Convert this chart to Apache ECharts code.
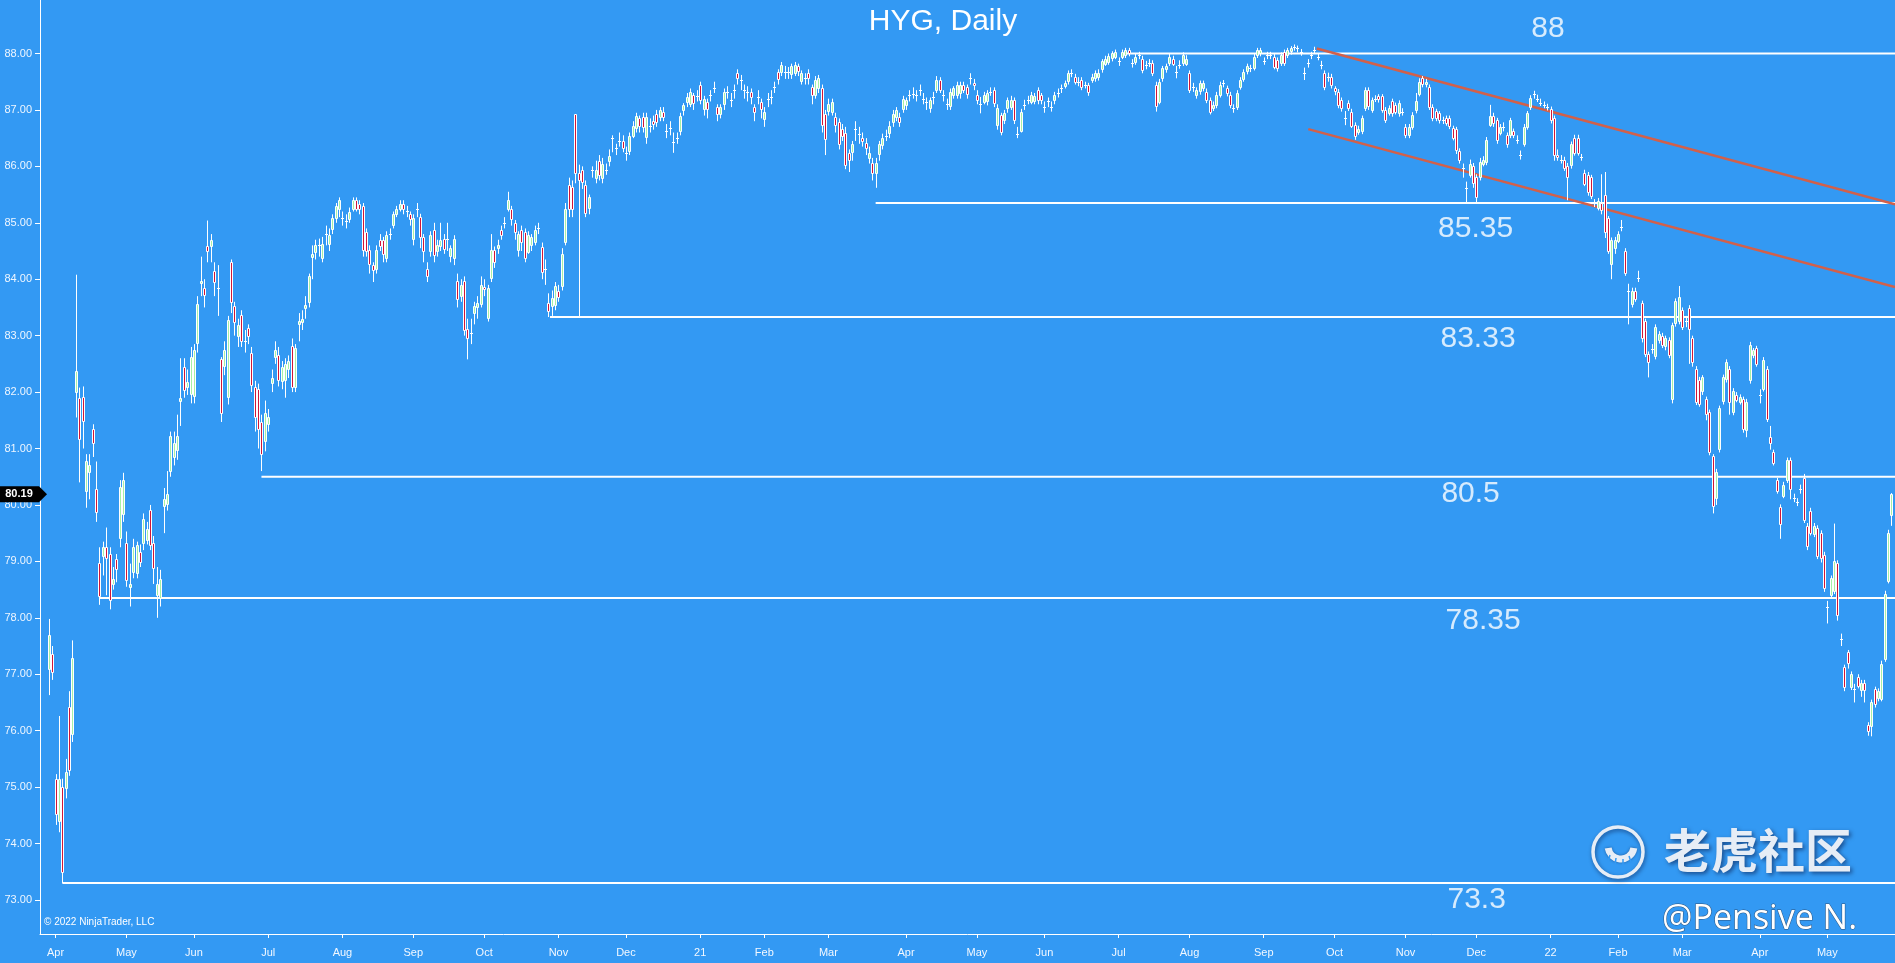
<!DOCTYPE html>
<html><head><meta charset="utf-8">
<script src="https://cdn.jsdelivr.net/npm/echarts@6/dist/echarts.min.js"></script>
<style>html,body{margin:0;padding:0;background:#3399f3;overflow:hidden}#c{width:1895px;height:963px}</style>
</head><body><div id="c"></div>
<script>
// ---- DATA: daily candles [open, close, low, high], HYG, from 2020-03-30 ----
const candles2020a = [
[77.08,77.69,76.63,77.98],[77.36,77.04,76.9,77.5],[75.15,74.53,74.33,75.23],[74.4,75.15,74.2,76.26],[75.0,73.5,73.3,75.15],
[74.98,75.27,74.8,75.5],[76.42,75.31,75.2,76.7],[75.93,77.28,75.8,77.6],[82.0,82.37,81.55,84.08],[81.9,81.18,80.4,82.08],
[81.92,81.5,81.0,82.1],[80.24,80.77,79.95,80.9],[80.57,80.7,80.1,80.9],[81.35,81.1,80.85,81.43],[80.28,79.87,79.7,80.77],
[78.97,78.39,78.23,79.25],[79.09,79.25,78.75,79.35],[79.25,79.05,78.4,79.6],[79.13,78.31,78.15,79.25],[78.6,78.68,78.5,78.9],
[79.05,78.88,78.63,79.13],[79.42,80.32,79.25,80.44],[79.83,80.44,79.7,80.57],[79.33,78.68,78.55,79.53],[78.55,78.6,78.2,78.96],
[78.8,79.25,78.7,79.4],[78.8,79.29,78.7,79.35],[79.17,79.0,78.9,79.3],[79.33,79.75,79.2,79.85],[79.38,79.58,79.3,79.7],
[79.91,79.29,79.2,80.0],[79.33,78.88,78.6,79.45],[78.4,78.6,78.0,78.9],[78.35,78.68,78.2,78.85],[79.99,80.11,79.5,80.3],
[80.03,80.2,79.9,80.6],[80.6,81.22,80.5,81.3],[80.85,81.1,80.7,81.3],[80.97,81.22,80.8,81.6],[81.85,81.9,81.4,82.6],
[82.45,82.04,81.9,82.6],[82.09,82.17,81.95,82.4],[81.96,82.62,81.8,82.8],[81.92,82.74,81.8,82.85],[82.87,83.56,82.7,83.7],
[83.93,83.97,83.7,84.4],[83.85,83.73,83.5,84.0],[84.59,84.51,84.3,85.04],[84.59,84.69,84.3,84.8],[84.14,83.95,83.7,84.3],
[83.83,83.85,83.35,84.25],[82.58,81.63,81.47,82.62],[82.45,82.74,82.3,82.9],[81.92,83.28,81.78,83.35],[84.3,83.6,83.4,84.35],
[83.52,83.24,83.0,83.6],[82.99,83.19,82.8,83.3],[83.36,82.9,82.8,83.45],[82.9,82.92,82.7,83.1],[83.13,82.99,82.85,83.2],
[82.7,82.13,82.0,82.8],[82.09,81.55,81.3,82.2],[82.05,81.35,81.0,82.15],[81.47,80.9,80.6,81.6],[81.14,81.63,80.95,81.85],
[81.43,81.55,81.3,81.7],[82.17,82.25,82.0,82.4],[82.62,82.74,82.5,82.9],[82.66,82.21,82.1,82.8],[82.21,82.45,82.05,82.55],
[82.21,82.5,81.9,82.6],[82.4,82.55,82.25,82.65],[82.82,82.09,82.0,82.95],[82.09,82.78,82.0,82.85],[83.2,83.26,82.9,83.4],
[83.25,83.3,83.1,83.45],[83.5,83.55,83.3,83.7],[83.6,84.06,83.5,84.1],[84.4,84.45,84.0,84.6],[84.48,84.6,84.35,84.7],
[84.6,84.62,84.4,84.72],[84.38,84.63,84.3,84.75],[84.8,84.82,84.6,84.95],[84.63,84.79,84.5,84.9],[84.88,85.08,84.8,85.15],
[85.08,85.29,85.0,85.35],[85.25,85.41,85.1,85.45],[85.1,85.08,84.95,85.2],[85.03,85.05,84.9,85.15],[85.08,85.2,85.0,85.27],
[85.25,85.41,85.2,85.45],[85.41,85.25,85.2,85.45],[85.33,85.25,85.15,85.4],[85.29,84.51,84.4,85.35],[84.84,84.51,84.4,84.9],
[84.51,84.26,84.1,84.6],[84.26,84.18,83.95,84.3],[84.18,84.51,84.1,84.6],[84.7,84.6,84.5,84.8],[84.69,84.45,84.3,84.75],
[84.38,84.79,84.3,84.85],[84.8,84.82,84.7,84.9],[84.96,85.16,84.9,85.2],[85.16,85.24,85.1,85.3],[85.25,85.33,85.2,85.4],
[85.33,85.25,85.15,85.4],[85.22,85.2,85.1,85.3],[85.16,85.08,84.95,85.2],[84.7,85.08,84.6,85.15],[85.24,85.25,85.1,85.35],
[85.1,84.75,84.55,85.16],[84.75,84.51,84.3,84.8],[84.18,84.06,83.95,84.3],[84.51,84.79,84.4,84.85],[84.88,84.43,84.3,85.0],
[84.5,84.6,84.4,84.7],[84.6,84.7,84.5,85.0],[84.72,84.55,84.45,84.8],[84.72,84.72,84.5,85.0],[84.4,84.55,84.3,84.6],
[84.38,84.72,84.25,84.78],[83.97,83.65,83.5,84.1],[83.7,83.9,83.6,84.0],[83.97,83.11,83.0,84.05],[83.11,82.95,82.58,83.3],
[83.05,83.05,82.85,83.3],[83.4,83.52,83.2,83.6],[83.5,83.57,83.3,83.7],[83.57,83.9,83.5,84.05],[83.87,83.83,83.7,84.0],
[83.32,83.85,83.25,83.9],[84.02,84.51,83.95,84.8],[84.51,84.3,84.2,84.58],[84.55,84.6,84.45,84.7],[84.88,84.8,84.7,84.95],
[85.0,85.0,84.9,85.1],[85.25,85.41,85.2,85.55],[85.25,85.08,84.95,85.3],[85.0,84.84,84.7,85.05],[84.51,84.8,84.4,84.85],
[84.88,84.67,84.5,84.95],[84.84,84.38,84.3,84.9],[84.48,84.78,84.45,84.85],[84.6,84.75,84.5,84.8],[84.67,84.88,84.6,84.95],
[84.9,84.92,84.8,85.0]
];
const candles2020b = [
[84.57,84.12,84.0,84.65],[84.2,84.18,83.9,84.35],[83.58,83.43,83.33,83.75],[83.52,83.67,83.35,83.8],[83.55,83.88,83.45,83.95],
[83.8,83.7,83.6,83.9],[83.88,84.45,83.8,84.55],[84.67,85.25,84.6,85.35],[85.67,85.25,85.1,85.8],[85.64,85.25,85.1,85.75],
[86.92,85.88,85.7,86.92],[85.88,85.76,83.33,86.03],[85.94,85.73,85.6,86.0],[85.67,85.17,85.1,85.75],[85.25,85.45,85.15,85.5],
[85.94,85.92,85.8,86.0],[85.8,85.94,85.7,86.1],[86.1,85.85,85.75,86.2],[85.8,86.05,85.7,86.15],[85.93,85.94,85.85,86.05],
[86.09,86.18,86.0,86.3],[86.5,86.51,86.25,86.55],[86.33,86.32,86.2,86.4],[86.45,86.46,86.35,86.6],[86.45,86.33,86.25,86.55],
[86.25,86.24,86.1,86.35],[86.27,86.54,86.2,86.6],[86.54,86.72,86.5,86.8],[86.69,86.9,86.6,86.95],[86.85,86.7,86.6,86.9],
[86.88,86.7,86.6,86.95],[86.51,86.87,86.4,86.95],[86.72,86.72,86.6,86.85],[86.81,86.75,86.65,86.9],[86.93,86.78,86.7,87.0],
[86.87,86.99,86.8,87.05],[86.96,86.87,86.8,87.05],[86.62,86.63,86.5,86.75],[86.68,86.69,86.55,86.8],[86.42,86.43,86.24,86.6],
[86.51,86.5,86.4,86.6],[86.63,86.9,86.55,86.95],[86.99,87.08,86.9,87.12],[87.14,87.23,87.05,87.3],[87.11,87.32,87.05,87.38],
[87.26,87.11,87.0,87.3],[87.26,87.25,87.15,87.35],[87.44,87.17,87.1,87.5],[87.02,87.2,86.9,87.25],[87.14,87.02,86.85,87.2],
[87.26,87.26,87.15,87.35],[87.38,87.38,87.3,87.5],[87.05,86.93,86.8,87.1],[86.93,87.05,86.85,87.1],[87.11,87.32,87.0,87.38],
[87.32,87.32,87.2,87.42],[87.17,87.17,87.05,87.3],[87.35,87.35,87.2,87.45],[87.65,87.56,87.45,87.72],[87.53,87.53,87.35,87.62],
[87.35,87.35,87.2,87.45],[87.32,87.32,87.15,87.42],[87.32,87.23,87.1,87.38],[87.05,86.96,86.8,87.1],[87.23,87.23,87.1,87.35],
[87.14,87.02,86.85,87.2],[86.84,86.96,86.7,87.05],[87.2,87.2,87.05,87.3],[87.23,87.23,87.1,87.35],[87.41,87.41,87.3,87.5],
[87.68,87.56,87.45,87.72],[87.68,87.8,87.6,87.85],[87.68,87.68,87.55,87.78],[87.68,87.68,87.55,87.76],[87.62,87.77,87.55,87.82],
[87.65,87.8,87.6,87.85],[87.77,87.68,87.6,87.82],[87.5,87.65,87.45,87.7],[87.56,87.56,87.45,87.65],[87.65,87.56,87.45,87.72],
[87.41,87.26,87.1,87.45],[87.26,87.53,87.2,87.6],[87.38,87.56,87.3,87.62],[87.38,86.72,86.6,87.45],[86.93,86.48,86.2,87.0],
[86.99,87.11,86.9,87.2],[86.96,87.14,86.9,87.2],[86.87,86.72,86.6,86.95],[86.78,86.39,86.3,86.85],[86.66,86.54,86.45,86.75],
[86.6,86.03,85.95,86.7],[86.24,86.12,85.9,86.3],[86.24,86.39,86.1,86.45],[86.66,86.66,86.45,86.8],[86.57,86.57,86.4,86.7],
[86.51,86.45,86.35,86.6],[86.42,86.33,86.2,86.5],[86.15,86.24,86.05,86.35],[86.06,85.88,85.75,86.15],[85.88,86.06,85.62,86.15],
[86.21,86.39,86.1,86.45],[86.39,86.51,86.3,86.58],[86.54,86.54,86.45,86.65],[86.6,86.72,86.5,86.8],[86.78,86.93,86.7,87.0],
[86.87,86.99,86.8,87.05],[86.87,86.78,86.7,86.95],[87.02,87.2,86.95,87.25],[87.08,87.17,87.0,87.22],[87.26,87.26,87.15,87.35],
[87.29,87.29,87.2,87.4],[87.26,87.26,87.15,87.35],[87.35,87.35,87.25,87.45],[87.2,87.2,87.1,87.3],[87.14,87.14,87.0,87.22],
[87.02,87.17,86.95,87.22],[87.23,87.23,87.1,87.32],[87.35,87.53,87.3,87.6],[87.53,87.35,87.3,87.58],[87.26,87.26,87.15,87.35],
[87.11,87.11,87.0,87.2],[87.08,87.32,87.0,87.38],[87.26,87.38,87.2,87.42],[87.26,87.44,87.2,87.5],[87.29,87.44,87.2,87.5],
[87.44,87.35,87.3,87.5],[87.41,87.29,87.2,87.45],[87.56,87.56,87.45,87.65],[87.47,87.44,87.35,87.55],[87.26,87.18,87.1,87.35]
];
const candles2021 = [
[87.12,87.1,86.94,87.23],[87.15,87.27,87.1,87.32],[87.15,87.3,87.08,87.35],[87.32,87.33,87.25,87.4],[87.35,87.12,87.05,87.4],
[86.73,87.03,86.65,87.1],[86.91,86.61,86.55,86.95],[86.82,86.94,86.75,87.0],[87.03,87.18,86.95,87.22],[87.06,87.18,87.0,87.25],
[87.18,86.82,86.75,87.22],[86.58,86.58,86.5,86.7],[86.64,86.97,86.6,87.02],[87.09,87.09,87.0,87.18],[87.18,87.18,87.1,87.25],
[87.15,87.27,87.1,87.32],[87.15,87.24,87.1,87.3],[87.35,87.18,87.1,87.4],[87.27,87.18,87.1,87.3],[87.06,87.06,86.95,87.15],
[87.15,87.15,87.05,87.22],[87.06,87.06,86.97,87.15],[87.18,87.27,87.1,87.32],[87.3,87.3,87.22,87.38],[87.38,87.38,87.3,87.45],
[87.41,87.47,87.38,87.52],[87.5,87.65,87.45,87.7],[87.65,87.65,87.58,87.72],[87.59,87.5,87.45,87.64],[87.5,87.5,87.42,87.58],
[87.53,87.41,87.35,87.58],[87.44,87.44,87.38,87.5],[87.44,87.32,87.25,87.48],[87.53,87.59,87.48,87.64],[87.56,87.65,87.5,87.7],
[87.58,87.65,87.52,87.72],[87.71,87.86,87.66,87.9],[87.83,87.91,87.78,87.96],[87.86,87.96,87.8,88.0],[87.91,88.0,87.86,88.04],
[87.94,88.03,87.9,88.07],[87.86,87.86,87.78,87.93],[87.94,88.03,87.9,88.07],[87.97,88.06,87.92,88.1],[88.06,88.0,87.95,88.1],
[87.83,87.83,87.75,87.9],[87.86,87.94,87.8,88.0],[87.97,87.97,87.9,88.03],[87.91,87.71,87.65,87.96],[87.8,87.8,87.72,87.87],
[87.83,87.83,87.76,87.9],[87.83,87.65,87.6,87.88],[87.44,87.06,86.97,87.5],[87.15,87.5,87.1,87.55],[87.56,87.74,87.5,87.78],
[87.71,87.77,87.66,87.82],[87.83,87.94,87.78,88.0],[87.91,87.83,87.78,87.96],[87.68,87.68,87.56,87.78],[87.8,87.8,87.73,87.88],
[87.83,87.97,87.78,88.02],[87.83,87.91,87.78,87.97],[87.65,87.35,87.3,87.7],[87.41,87.41,87.32,87.48],[87.26,87.35,87.2,87.4],
[87.32,87.47,87.27,87.52],[87.38,87.47,87.33,87.52],[87.32,87.18,87.12,87.38],[87.18,86.97,86.92,87.22],[87.03,87.09,86.98,87.15],
[87.09,87.27,87.03,87.32],[87.27,87.44,87.22,87.5],[87.47,87.47,87.4,87.53],[87.38,87.29,87.24,87.43],[87.27,87.09,87.03,87.32],
[87.03,87.03,86.95,87.1],[87.06,87.3,87.0,87.35],[87.41,87.53,87.36,87.58],[87.56,87.68,87.5,87.72],[87.68,87.77,87.63,87.82],
[87.74,87.74,87.67,87.8],[87.74,87.94,87.7,88.0],[87.97,88.06,87.92,88.1],[88.0,88.06,87.95,88.1],[87.86,87.86,87.8,87.93],
[87.97,87.97,87.9,88.03],[87.97,87.97,87.9,88.03],[87.94,87.77,87.72,87.99],[87.88,87.74,87.68,87.93],[87.83,87.97,87.78,88.02],
[88.03,87.83,87.78,88.07],[87.97,88.06,87.92,88.1],[88.03,88.09,87.98,88.13],[88.12,88.12,88.05,88.16],[88.09,88.09,88.02,88.14],
[88.03,88.03,87.96,88.08],[87.65,87.65,87.53,87.75],[87.83,87.83,87.75,87.9],[87.97,87.97,87.9,88.03],[88.06,88.06,88.0,88.12],
[87.94,87.94,87.88,88.0],[87.8,87.8,87.72,87.87],[87.65,87.41,87.35,87.7],[87.59,87.59,87.5,87.66],[87.59,87.44,87.38,87.64],
[87.38,87.32,87.26,87.42],[87.32,87.09,87.03,87.37],[87.18,87.03,86.97,87.22],[86.85,86.85,86.73,86.98],[87.12,87.03,86.98,87.17],
[86.97,86.73,86.68,87.02],[86.73,86.53,86.47,86.78],[86.62,86.67,86.56,86.72],[86.62,86.85,86.57,86.9],[87.03,87.35,86.98,87.4],
[87.35,87.06,87.0,87.4],[87.0,87.18,86.95,87.22],[87.2,87.2,87.14,87.26],[87.24,87.18,87.13,87.28],[87.24,87.0,86.95,87.28],
[87.0,86.82,86.77,87.05],[86.94,87.03,86.9,87.08],[87.15,86.94,86.88,87.2],[87.09,86.97,86.92,87.13],[86.94,87.12,86.88,87.17],
[86.97,86.97,86.9,87.03],[86.7,86.56,86.5,86.75],[86.56,86.7,86.5,86.75],[86.7,86.91,86.65,86.96],[86.99,87.15,86.94,87.3]
];
const candles2022 = [
[87.29,87.5,87.24,87.56],[87.56,87.46,87.4,87.6],[87.47,87.5,87.4,87.55],[87.4,87.05,87.0,87.45],[87.05,86.86,86.8,87.1],
[86.98,86.86,86.8,87.02],[86.94,86.82,86.76,86.98],[86.82,86.82,86.75,86.88],[86.86,86.78,86.72,86.9],[86.86,86.72,86.66,86.9],
[86.68,86.51,86.46,86.72],[86.66,86.28,86.22,86.7],[86.28,86.12,86.05,86.32],[85.97,85.97,85.8,86.05],[85.62,85.62,85.35,85.73],
[85.85,86.05,85.8,86.12],[86.01,85.7,85.62,86.06],[85.81,85.45,85.35,85.86],[85.81,86.08,85.75,86.15],[86.05,86.12,86.0,86.18],
[86.08,86.47,86.02,86.52],[86.74,86.9,86.7,87.09],[86.9,86.78,86.7,86.95],[86.82,86.47,86.4,86.86],[86.59,86.7,86.55,86.75],
[86.7,86.7,86.62,86.78],[86.55,86.39,86.33,86.6],[86.55,86.82,86.5,86.86],[86.62,86.55,86.5,86.67],[86.47,86.47,86.4,86.55],
[86.2,86.2,86.12,86.28],[86.39,86.7,86.35,86.75],[86.7,86.94,86.65,86.98],[87.05,87.21,87.0,87.26],[87.28,87.28,87.2,87.34],
[87.2,87.2,87.14,87.27],[87.13,87.13,87.07,87.2],[87.09,87.09,87.03,87.15],[87.05,87.05,86.99,87.11],[87.01,86.82,86.76,87.06],
[86.85,86.2,86.1,86.9],[86.2,86.16,86.1,86.3],[86.12,86.12,86.05,86.2],[86.12,85.97,85.92,86.17],[86.01,85.81,85.4,86.06],
[86.01,86.39,85.96,86.44],[86.51,86.24,86.19,86.56],[86.51,86.24,86.19,86.56],[86.16,86.16,86.1,86.22],[85.89,85.7,85.65,85.94],
[85.85,85.54,85.48,85.9],[85.81,85.47,85.42,85.85],[85.35,85.35,85.28,85.42],[85.27,85.39,85.22,85.44],[85.35,85.23,85.15,85.86],
[85.5,84.85,84.73,85.9],[85.08,84.5,84.45,85.12],[84.27,84.69,84.0,84.74],[84.54,84.69,84.45,84.75],[84.69,84.81,84.64,84.85],
[84.92,84.92,84.85,85.05],[84.5,84.11,84.06,84.55],[83.8,83.8,83.2,83.92],[83.57,83.8,83.5,83.85],[83.8,83.65,83.6,83.85],
[84.03,84.03,83.95,84.15],[83.57,82.95,82.88,83.62],[83.26,82.68,82.62,83.3],[82.68,82.53,82.26,82.72],[82.76,82.76,82.68,82.85],
[82.64,83.15,82.58,83.2],[82.92,83.03,82.86,83.08],[83.0,82.84,82.78,83.05],[82.8,82.95,82.74,83.0],[82.92,82.65,82.6,82.97],
[81.87,83.18,81.8,83.23],[83.22,83.61,83.16,83.66],[83.26,83.69,83.2,83.88],[83.45,83.15,83.1,83.5],[83.26,83.26,83.15,83.35],
[83.49,83.11,82.5,83.54],[82.95,82.53,82.45,83.0],[82.41,81.83,81.77,82.46],[82.22,81.79,81.74,82.27],[82.02,82.26,81.95,82.3],
[81.87,81.6,81.5,81.92],[81.64,80.94,80.88,81.69],[80.86,79.97,79.85,80.9],[80.13,80.59,80.0,80.64],[80.98,81.71,80.93,81.76],
[81.83,82.26,81.78,82.31],[82.22,82.53,82.17,82.58],[82.41,81.83,81.6,82.46],[81.64,82.02,81.59,82.07],[81.95,81.87,81.82,82.0],
[81.83,81.91,81.78,81.96],[81.87,81.33,81.28,81.92],[81.33,81.83,81.2,81.88],[82.22,82.84,82.15,82.89],[82.66,82.74,82.6,82.78],
[82.78,82.5,82.45,82.82],[81.95,81.95,81.8,82.05],[82.06,82.57,82.01,82.62],[82.41,81.52,81.47,82.46],[81.2,81.1,80.98,81.4],
[80.94,80.75,80.7,80.98],[80.44,80.25,80.2,80.48],[79.97,79.67,79.4,80.01],[80.17,80.36,80.12,80.41],[80.44,80.79,80.39,80.84],
[80.79,80.28,80.1,80.84],[80.13,80.13,80.05,80.2],[80.05,80.05,79.98,80.12],[80.28,80.28,80.2,80.36],[80.48,79.74,79.68,80.55],
[79.63,79.28,79.2,79.68],[79.9,79.51,79.46,79.95],[79.48,79.63,79.43,79.68],[79.59,79.09,79.04,79.64],[79.5,79.05,78.98,79.55],
[79.12,78.54,78.46,79.17],[78.2,78.2,77.9,78.3],[78.39,78.7,78.34,78.75],[78.47,79.01,78.42,79.67],[78.97,78.04,77.95,79.02],
[77.62,77.62,77.5,77.72],[77.12,76.77,76.7,77.17],[77.39,77.19,77.1,77.43],[76.77,77.0,76.72,77.05],[76.73,76.73,76.5,76.83],
[76.96,76.8,76.75,77.0],[76.72,76.85,76.6,76.9],[76.85,76.72,76.5,76.9],[76.1,75.99,75.91,76.15],[76.07,76.5,75.9,76.55],
[76.73,76.46,76.41,76.78],[76.57,76.7,76.52,76.75],[76.57,77.19,76.52,77.24],[77.27,78.43,77.22,78.48],[78.66,79.51,78.61,79.56],
[79.82,80.19,79.63,80.21]
];
const marketHolidays = ['2020-04-10','2020-05-25','2020-07-03','2020-09-07','2020-11-26','2020-12-25','2021-01-01','2021-01-18',
  '2021-02-15','2021-04-02','2021-05-31','2021-07-05','2021-09-06','2021-11-25','2021-12-24','2022-01-17','2022-02-21','2022-04-15','2022-05-30'];
const firstDate = '2020-03-30';
const yTickValues = [73,74,75,76,77,78,79,80,81,82,83,84,85,86,87,88];
// support / resistance levels and the bar index they are drawn from
const levelValues = [88, 85.35, 83.33, 80.5, 78.35, 73.3];
const levelFromBar = [319, 245, 148.5, 63, 15, 4];
// down-channel lines: [[bar, price],[bar, price]]
const channelLines = [[[375.7, 88.09],[547.06, 85.33]], [[373.2, 86.66],[547.06, 83.86]]];

// ---------- build ----------
const candles = [].concat(candles2020a, candles2020b, candles2021, candles2022);
function tradingDays(n){
  const out=[]; const d=new Date(firstDate+'T00:00:00Z');
  while(out.length<n){const wd=d.getUTCDay();const s=d.toISOString().slice(0,10);
    if(wd!==0&&wd!==6&&marketHolidays.indexOf(s)<0) out.push(s); d.setUTCDate(d.getUTCDate()+1);}
  return out;
}
const dates = tradingDays(candles.length);
const MN=['Jan','Feb','Mar','Apr','May','Jun','Jul','Aug','Sep','Oct','Nov','Dec'];
const monthTicks=[], monthLabel={};
for(let i=1;i<dates.length;i++){
  if(dates[i].slice(5,7)!==dates[i-1].slice(5,7)){
    monthTicks.push(i); const m=+dates[i].slice(5,7);
    monthLabel[i]= m===1 ? dates[i].slice(2,4) : MN[m-1];
  }
}
const XMIN=-2.62, XMAX=547.06;
const FONT="'Liberation Sans', Arial, sans-serif";
const UP='#a6f0a6', DOWN='#cf1639', WHITE='#ffffff';
const seriesData = candles.map((r,i)=>[i,r[0],r[1],r[2],r[3]]);
const lastClose = candles[candles.length-1][1];

const chart = echarts.init(document.getElementById('c'), null, {width:1895,height:963});
const series = [];
levelValues.forEach((v,k)=>{
  series.push({type:'line',data:[[levelFromBar[k],v],[XMAX,v]],symbol:'none',silent:true,z:3,
    lineStyle:{color:WHITE,width:2},animation:false});
});
channelLines.forEach(seg=>{
  series.push({type:'line',data:seg,symbol:'none',silent:true,z:4,
    lineStyle:{color:'#d2604a',width:2.5},animation:false});
});
series.push({
  type:'custom', data:seriesData, encode:{x:0,y:[1,2,3,4]}, z:5, animation:false,
  renderItem:function(params, api){
    const i=api.value(0), o=api.value(1), c=api.value(2), l=api.value(3), h=api.value(4);
    const po=api.coord([i,o]), pc=api.coord([i,c]), pl=api.coord([i,l]), ph=api.coord([i,h]);
    const x=Math.round(po[0]);
    const ch=[{type:'line',shape:{x1:x+0.5,y1:ph[1],x2:x+0.5,y2:pl[1]},style:{stroke:WHITE,lineWidth:1}}];
    const top=Math.min(po[1],pc[1]), bot=Math.max(po[1],pc[1]);
    if(bot-top<1.6){
      const yy=Math.round((top+bot)/2)+0.5;
      ch.push({type:'line',shape:{x1:x-1,y1:yy,x2:x+2,y2:yy},style:{stroke:WHITE,lineWidth:1}});
    } else {
      ch.push({type:'rect',shape:{x:x-0.5,y:Math.round(top)+0.5,width:2,height:Math.round(bot-top)},
        style:{fill:c>=o?UP:DOWN,stroke:WHITE,lineWidth:1}});
    }
    return {type:'group',children:ch};
  }
});
// level text labels (placed in data space)
const levelLabels = [[444.2,88.43,'88'],[422.8,84.9,'85.35'],[423.5,82.94,'83.33'],[421.3,80.2,'80.5'],[425,77.95,'78.35'],[423.1,73.0,'73.3']];
series.push({type:'scatter',data:levelLabels,symbolSize:1,silent:true,z:6,animation:false,
  itemStyle:{color:'rgba(0,0,0,0)'},
  label:{show:true,position:'inside',formatter:p=>p.value[2],color:WHITE,fontSize:30,fontFamily:FONT}});

chart.setOption({
  backgroundColor:'#3399f3',
  animation:false,
  grid:{left:40,right:0,top:0,bottom:29,outerBoundsMode:'none'},
  xAxis:{type:'value',min:XMIN,max:XMAX,
    axisLine:{show:true,onZero:false,lineStyle:{color:WHITE,width:1}},
    axisTick:{show:true,customValues:monthTicks,length:4,lineStyle:{color:WHITE}},
    axisLabel:{customValues:monthTicks,formatter:v=>monthLabel[v]||'',color:'#f2f8ff',fontSize:11,
      fontFamily:"'Liberation Sans Narrow', 'Liberation Sans', Arial, sans-serif",margin:13},
    splitLine:{show:false}},
  yAxis:{type:'value',min:72.397,max:88.948,
    axisLine:{show:true,onZero:false,lineStyle:{color:WHITE,width:1}},
    axisTick:{show:true,customValues:yTickValues,length:5,lineStyle:{color:WHITE}},
    axisLabel:{customValues:yTickValues,formatter:v=>v.toFixed(2),color:'#eef6ff',fontSize:11,fontFamily:FONT,margin:8},
    splitLine:{show:false}},
  series:series
});

const tagY = chart.convertToPixel({yAxisIndex:0}, lastClose);
chart.setOption({graphic:[
  {type:'text',x:943,y:22,z:50,style:{text:'HYG, Daily',fill:WHITE,fontSize:30,fontFamily:FONT,align:'center',verticalAlign:'middle'}},
  {type:'text',x:44,y:922,z:50,style:{text:'\u00a9 2022 NinjaTrader, LLC',fill:WHITE,fontSize:10,fontFamily:FONT,verticalAlign:'middle'}},
  {type:'circle',shape:{cx:1618,cy:852,r:25},z:50,style:{fill:'none',stroke:'#e6edf6',lineWidth:3.5,shadowBlur:4,shadowColor:'rgba(0,0,40,0.45)',shadowOffsetX:1,shadowOffsetY:2}},
  {type:'arc',shape:{cx:1621,cy:846,r:13,startAngle:0.05*Math.PI,endAngle:0.95*Math.PI},z:50,style:{fill:'none',stroke:'#e6edf6',lineWidth:7,shadowBlur:3,shadowColor:'rgba(0,0,40,0.4)'}},
  {type:'polyline',shape:{points:[[1610,855],[1608,862]]},z:51,style:{stroke:'#3399f3',lineWidth:1.5}},
  {type:'polyline',shape:{points:[[1616,858],[1615,865]]},z:51,style:{stroke:'#3399f3',lineWidth:1.5}},
  {type:'polyline',shape:{points:[[1623,859],[1623,866]]},z:51,style:{stroke:'#3399f3',lineWidth:1.5}},
  {type:'polyline',shape:{points:[[1629,856],[1631,862]]},z:51,style:{stroke:'#3399f3',lineWidth:1.5}},
  {type:'text',x:1664,y:850,z:50,style:{text:'\u8001\u864e\u793e\u533a',fill:'#e6edf6',fontSize:47,fontWeight:'bold',
    fontFamily:"'Noto Sans CJK SC', sans-serif",verticalAlign:'middle',textShadowBlur:4,textShadowColor:'rgba(0,0,40,0.5)',textShadowOffsetX:2,textShadowOffsetY:2}},
  {type:'text',x:1662,y:919,z:50,style:{text:'@Pensive N.',fill:WHITE,fontSize:34,fontFamily:"'Open Sans', sans-serif",verticalAlign:'middle',
    stroke:'rgba(40,50,70,0.7)',lineWidth:1}},
  {type:'polygon',z:60,shape:{points:[[0,tagY-8],[39,tagY-8],[47,tagY],[39,tagY+8],[0,tagY+8]]},style:{fill:'#000'}},
  {type:'text',x:19,y:tagY,z:61,style:{text:lastClose.toFixed(2),fill:WHITE,fontSize:11,fontWeight:'bold',fontFamily:FONT,align:'center',verticalAlign:'middle'}}
]});
</script>
</body></html>
